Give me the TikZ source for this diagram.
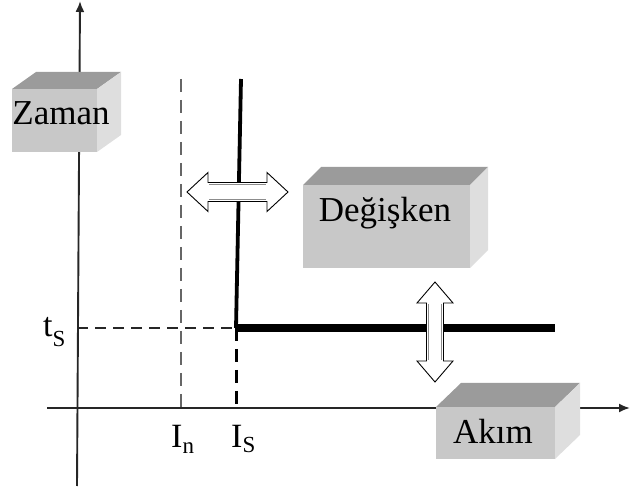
\documentclass[tikz,border=0pt]{standalone}
\usepackage{fontspec}
\setmainfont{Liberation Serif}
\usetikzlibrary{arrows.meta}

\definecolor{facefront}{HTML}{C8C8C8}
\definecolor{facetop}{HTML}{9B9B9B}
\definecolor{faceside}{HTML}{DEDEDE}

\tikzset{
  axis/.style={line width=1.9pt, draw=black!85, -{Latex[length=11pt,width=9pt]}},
  guide/.style={line width=2pt, dash pattern=on 11pt off 7pt},
  boxfront/.style={fill=facefront, draw=none, inner sep=0pt, outer sep=0pt},
  boxlabel/.style={inner sep=0pt, font=\fontsize{35}{40}\selectfont},
  ticklabel/.style={inner sep=0pt, font=\fontsize{34}{38}\selectfont},
  hollow/.style={fill=white, draw=black, line width=0.9pt, line join=miter},
  hollowshade/.style={draw=black!45, line width=1.2pt},
}

% top and right faces of a block whose front face is node #1, depth (#2,#3)
\newcommand{\blockfaces}[3]{%
  \fill[facetop] (#1.north west) -- ++(#2,-#3) -- ([shift={(#2,-#3)}]#1.north east) -- (#1.north east) -- cycle;
  \fill[faceside] (#1.north east) -- ++(#2,-#3) -- ([shift={(#2,-#3)}]#1.south east) -- (#1.south east) -- cycle;}

\begin{document}
\begin{tikzpicture}[x=1pt, y=-1pt]
\useasboundingbox (0,0) rectangle (630,489);

% axes
\coordinate (yfoot) at (77,486);
\coordinate (ytip) at (80,1);
\coordinate (xfoot) at (47,408);
\coordinate (xtip) at (630,408);
\draw[axis] (yfoot) -- (ytip);
\draw[axis] (xfoot) -- (xtip);

% characteristic points
\coordinate (intop) at (181,79);
\coordinate (inbase) at (181,408);
\coordinate (istop) at (241,79);
\coordinate (knee) at (236,328);
\coordinate (isbase) at (236,408);
\coordinate (tsaxis) at (77,328);
\coordinate (flatend) at (555,328);

% guide lines
\draw[guide, draw=black!60, dash pattern=on 13pt off 8pt] (intop) -- (inbase);
\draw[guide, draw=black!85] (tsaxis) -- (knee);
\draw[line width=3pt, dash pattern=on 13pt off 8pt] (knee) -- (isbase);

% trip curve
\draw[line width=3.8pt] (istop) -- (knee);
\draw[line width=8pt] ([xshift=-1.5pt]knee) -- (flatend);

% tick labels
\node[ticklabel, anchor=base west] (ts) at (43,337) {t\raisebox{-10pt}{\fontsize{23}{23}\selectfont S}};
\node[ticklabel, anchor=base west] (inlab) at (171,447) {I\raisebox{-6pt}{\fontsize{23}{23}\selectfont n}};
\node[ticklabel, anchor=base west] (islab) at (231,447) {I\raisebox{-5pt}{\fontsize{23}{23}\selectfont S}};

% blocks
\node[boxfront, minimum width=85pt, minimum height=63pt] (zamanbox) at (54.5,120.5) {};
\blockfaces{zamanbox}{24}{17}
\node[boxlabel, anchor=base] (zaman) at (61,125) {Zaman};

\node[boxfront, minimum width=167pt, minimum height=83pt] (degbox) at (386.5,226.5) {};
\blockfaces{degbox}{18}{18}
\node[boxlabel, anchor=base] (deg) at (385,222) {Değişken};

\node[boxfront, minimum width=119pt, minimum height=52pt] (akimbox) at (495.5,433) {};
\blockfaces{akimbox}{25}{24}
\node[boxlabel, anchor=base] (akim) at (493,443) {Akım};

% double arrows
\draw[hollow] (187,192) -- (208,172.5) -- (208,182.5) -- (267,182.5) -- (267,172.5)
  -- (288,192) -- (267,211.5) -- (267,201.5) -- (208,201.5) -- (208,211.5) -- cycle;
\draw[hollowshade] (209,184.5) -- (266,184.5);
\draw[hollowshade] (209,199.5) -- (266,199.5);

\draw[hollow] (435,282) -- (453,303) -- (443.5,303) -- (443.5,361) -- (453,361)
  -- (435,382) -- (417,361) -- (426.5,361) -- (426.5,303) -- (417,303) -- cycle;
\draw[hollowshade] (428.5,304) -- (428.5,360);
\draw[hollowshade] (441.5,304) -- (441.5,360);

\end{tikzpicture}
\end{document}
